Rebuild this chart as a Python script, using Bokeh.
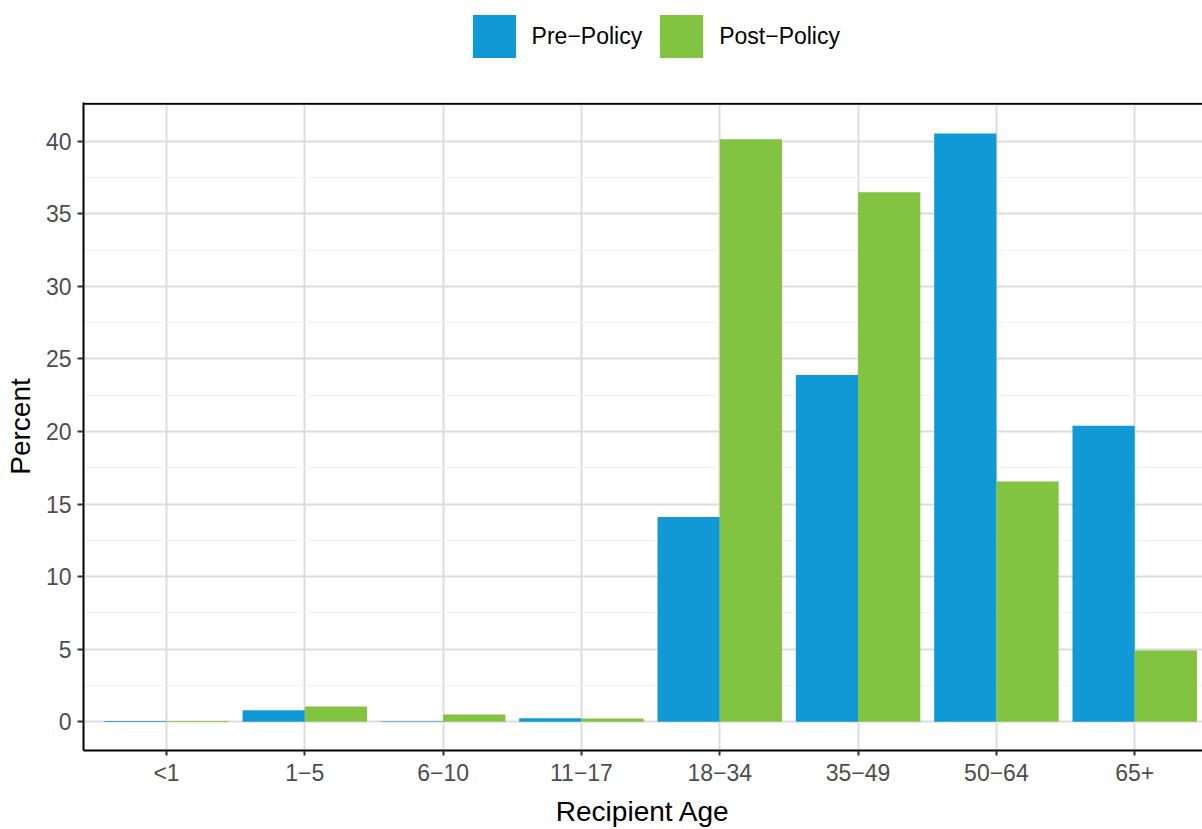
from bokeh.plotting import figure
from bokeh.layouts import column
from bokeh.models import (ColumnDataSource, Range1d, FixedTicker, SingleIntervalTicker,
                          Legend, LegendItem, Span)
from bokeh.transform import dodge
from bokeh.embed import file_html
from bokeh.resources import INLINE

# ---- data ----
categories = ["<1", "1\u22125", "6\u221210", "11\u221217", "18\u221234", "35\u221249", "50\u221264", "65+"]
pre_policy = [0.05, 0.78, 0.03, 0.23, 14.1, 23.9, 40.55, 20.4]
post_policy = [0.05, 1.05, 0.50, 0.22, 40.15, 36.5, 16.55, 4.9]
series_names = ["Pre\u2212Policy", "Post\u2212Policy"]

BLUE = "#1199d6"
GREEN = "#82c341"
FONT = "Liberation Sans"

idx = list(range(len(categories)))
src = ColumnDataSource(dict(idx=idx, cat=categories, pre=pre_policy, post=post_policy))

W = 1202
LEG_H = 80
MAIN_H = 829 - LEG_H

# ---------------- legend strip ----------------
leg = figure(width=W, height=LEG_H, output_backend="svg", toolbar_location=None,
             x_axis_type=None, y_axis_type=None, x_range=Range1d(0, 1), y_range=Range1d(0, 1),
             min_border=0)
leg.outline_line_color = None
leg.xgrid.visible = False
leg.ygrid.visible = False
# swatch renderers for the legend (kept outside the visible range)
lr_pre = leg.vbar(x=[-5], top=[-5], bottom=[-6], width=0.1, fill_color=BLUE, line_color=None)
lr_post = leg.vbar(x=[-5], top=[-5], bottom=[-6], width=0.1, fill_color=GREEN, line_color=None)
legend = Legend(items=[LegendItem(label=series_names[0], renderers=[lr_pre]),
                       LegendItem(label=series_names[1], renderers=[lr_post])],
                orientation="horizontal", location=(383.6, 17),
                glyph_width=54, glyph_height=54, label_standoff=11, spacing=12,
                padding=0, margin=0, border_line_color=None, background_fill_alpha=0,
                label_text_font=FONT, label_text_font_size="23px", label_text_color="black")
leg.add_layout(legend, "center")

# ---------------- main plot ----------------
p = figure(width=W, height=MAIN_H, output_backend="svg", toolbar_location=None,
           x_range=Range1d(-0.6, 7.49), y_range=Range1d(-1.99, 42.68),
           min_border_left=83, min_border_top=22, min_border_right=0, min_border_bottom=77)
p.outline_line_color = None
p.background_fill_color = "white"

bw = 0.45
r_pre = p.vbar(x=dodge("idx", -bw / 2), top="pre", bottom=0, width=bw, source=src,
               fill_color=BLUE, line_color=None)
r_post = p.vbar(x=dodge("idx", bw / 2), top="post", bottom=0, width=bw, source=src,
                fill_color=GREEN, line_color=None)

xa = p.xaxis[0]
xa.ticker = FixedTicker(ticks=idx)
xa.major_label_overrides = {i: c for i, c in zip(idx, categories)}
ya = p.yaxis[0]
ya.ticker = SingleIntervalTicker(interval=5, num_minor_ticks=2)
for ax in (xa, ya):
    ax.axis_line_color = "black"
    ax.axis_line_width = 2
    ax.major_tick_line_color = "#333333"
    ax.major_tick_line_width = 2
    ax.major_tick_out = 6
    ax.major_tick_in = 0
    ax.minor_tick_out = 0
    ax.minor_tick_in = 0
    ax.major_label_text_font = FONT
    ax.major_label_text_font_size = "23px"
    ax.major_label_text_color = "#4d4d4d"
    ax.axis_label_text_font = FONT
    ax.axis_label_text_font_size = "28px"
    ax.axis_label_text_font_style = "normal"
    ax.axis_label_text_color = "black"
xa.axis_label = "Recipient Age"
ya.axis_label = "Percent"
xa.major_tick_out = 5
xa.major_label_standoff = 4
xa.axis_label_standoff = 7
ya.major_label_standoff = 6
ya.axis_label_standoff = 7

p.xgrid.ticker = FixedTicker(ticks=idx)
p.xgrid.grid_line_color = "#dcdcdc"
p.xgrid.grid_line_width = 2
p.ygrid.grid_line_color = "#dcdcdc"
p.ygrid.grid_line_width = 2
p.ygrid.minor_grid_line_color = "#f2f2f2"
p.ygrid.minor_grid_line_width = 1.2

p.add_layout(Span(location=42.6, dimension="width", line_color="black", line_width=2))

layout = column(leg, p, spacing=0)
open("out.html", "w").write(file_html(layout, INLINE))
